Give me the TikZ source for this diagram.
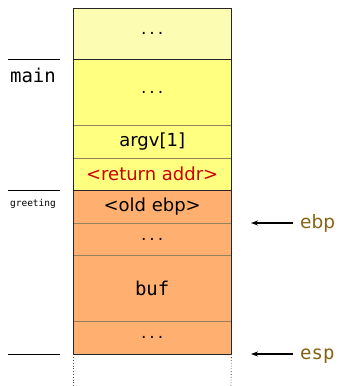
\documentclass[tikz,border=0pt]{standalone}
\usepackage{fontspec}
\setmainfont{DejaVu Sans}
\setmonofont{DejaVu Sans Mono}
\usetikzlibrary{arrows.meta}
\definecolor{lyel}{RGB}{252,252,178}
\definecolor{yel}{RGB}{255,255,128}
\definecolor{org}{RGB}{255,176,112}
\definecolor{retred}{RGB}{204,0,0}
\definecolor{regc}{RGB}{135,98,20}
\definecolor{sepc}{RGB}{150,130,90}
\tikzset{
  cell/.style={draw=none, minimum width=158pt, inner sep=0pt, anchor=north west, font=\fontsize{18}{20}\selectfont},
  dots/.style={font=\ttfamily\fontsize{14}{16}\selectfont},
  sep/.style={draw=sepc, line width=0.8pt},
  border/.style={draw=black!85, line width=1pt},
  lab/.style={font=\ttfamily\fontsize{19}{21}\selectfont, anchor=center},
  reg/.style={text=regc, font=\fontsize{18.5}{20}\selectfont, anchor=base west, inner sep=3pt},
  ptr/.style={-{Stealth[length=7pt,width=5pt]}, line width=1.4pt},
}
\begin{document}
\begin{tikzpicture}[x=1pt,y=-1pt]
\useasboundingbox (0,0) rectangle (338,386);
% fills
\fill[lyel] (73,8) rectangle (231,59);
\fill[yel] (73,59) rectangle (231,190);
\fill[org] (73,190) rectangle (231,354);
% cells
\node[cell, dots, minimum height=51pt] (c1) at (73,8) {...};
\node[cell, dots, minimum height=66pt] (c2) at (73,59) {...};
\node[cell, minimum height=33pt] (c3) at (73,125) {argv[1]};
\node[cell, minimum height=32pt, text=retred] (c4) at (73,158) {<return addr>};
\node[cell, minimum height=33pt] (c5) at (73,190) {<old ebp>};
\node[cell, dots, minimum height=32pt] (c6) at (73,223) {...};
\node[cell, minimum height=66pt, font=\ttfamily\fontsize{19}{21}\selectfont] (c7) at (73,255) {buf};
\node[cell, dots, minimum height=33pt] (c8) at (73,321) {...};
% separators
\draw[sep] (c2.south west) -- (c2.south east);
\draw[sep] (c3.south west) -- (c3.south east);
\draw[sep] (c5.south west) -- (c5.south east);
\draw[sep] (c6.south west) -- (c6.south east);
\draw[sep] (c7.south west) -- (c7.south east);
\draw[border] (c1.south west) -- (c1.south east);
\draw[border] (c4.south west) -- (c4.south east);
\draw[border] (c8.south west) |- (c1.north east) -- (c8.south east) -- cycle;
% dotted continuation
\coordinate (dl) at (73,386);
\coordinate (dr) at (231,386);
\draw[dotted, line width=0.8pt, black!70] (c8.south west) -- (dl);
\draw[dotted, line width=0.8pt, black!70] (c8.south east) -- (dr);
% left frame markers
\draw[line width=0.8pt] (8,59) -- (60,59);
\draw[line width=0.8pt] (8,190) -- (60,190);
\draw[line width=0.8pt] (8,354) -- (60,354);
\node[lab] (mainl) at (33,75) {main};
\node[font=\ttfamily\fontsize{9.5}{11}\selectfont] (greetl) at (33,204) {greeting};
% register pointers
\node[reg] (ebp) at (297,228) {ebp};
\node[reg, font=\ttfamily\fontsize{19}{21}\selectfont] (esp) at (297,359) {esp};
\coordinate (ebpt) at (251,223);
\coordinate (espt) at (251,354);
\draw[ptr] (ebp.west |- ebpt) ++(-4,0) -- (ebpt);
\draw[ptr] (esp.west |- espt) ++(-4,0) -- (espt);
\end{tikzpicture}
\end{document}
